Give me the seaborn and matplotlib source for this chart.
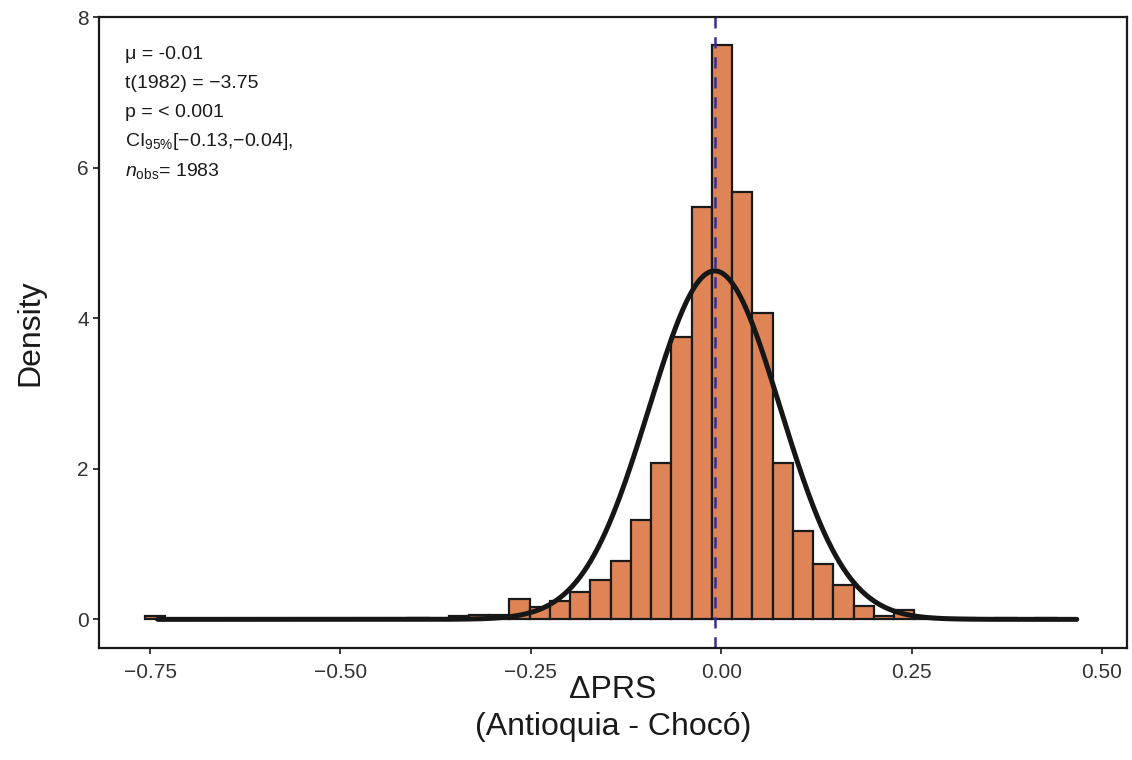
import numpy as np
import pandas as pd
import matplotlib
matplotlib.use("Agg")
import matplotlib.pyplot as plt
import seaborn as sns

# histogram of delta PRS (density per bin)
bin_start = -0.757
bin_width = 0.0266
density = [0.04, 0, 0, 0, 0, 0, 0, 0, 0, 0,
           0, 0, 0, 0.02, 0, 0.04, 0.06, 0.06, 0.275, 0.16,
           0.24, 0.37, 0.52, 0.78, 1.32, 2.08, 3.75, 5.48, 7.63, 5.68,
           4.07, 2.08, 1.17, 0.73, 0.45, 0.18, 0.05, 0.13, 0.03, 0.02,
           0.02, 0, 0.02, 0, 0.02]

# fitted normal curve
mu = -0.0085
sigma = 0.0862
curve_lo, curve_hi = -0.74, 0.467
mean_line = -0.008

stats_lines = [
    "μ = -0.01",
    "t(1982) = −3.75",
    "p = < 0.001",
    r"CI$_{\mathregular{95\%}}$[−0.13,−0.04],",
    r"$n_{\mathregular{obs}}$= 1983",
]

sns.set_theme(style="ticks")
plt.rcParams["font.family"] = ["Liberation Sans", "DejaVu Sans"]
plt.rcParams["mathtext.fontset"] = "custom"
plt.rcParams["mathtext.rm"] = "Liberation Sans"
plt.rcParams["mathtext.it"] = "Liberation Sans:italic"

fig = plt.figure(figsize=(11.32, 7.6), dpi=100)
ax = fig.add_axes([0.0875, 0.1474, 0.9081, 0.8302])

n_bins = len(density)
centers = bin_start + bin_width * (np.arange(n_bins) + 0.5)
df = pd.DataFrame({"x": centers, "d": density})
sns.histplot(data=df, x="x", weights="d", binwidth=bin_width,
             binrange=(bin_start, bin_start + bin_width * n_bins), stat="count",
             color="#DF8457", alpha=1, edgecolor="#1a1a1a", linewidth=1.6, ax=ax)

xs = np.linspace(curve_lo, curve_hi, 500)
pdf = np.exp(-0.5 * ((xs - mu) / sigma) ** 2) / (sigma * np.sqrt(2 * np.pi))
sns.lineplot(x=xs, y=pdf, color="#161616", linewidth=3.6, ax=ax)

ax.axvline(mean_line, color="#3B2C8E", linestyle=(0, (4.5, 3.5)), linewidth=1.8)

ax.set_xlim(-0.817, 0.533)
ax.set_ylim(-0.38, 8.0)
ax.set_xticks([-0.75, -0.5, -0.25, 0, 0.25, 0.5])
ax.set_xticklabels(["−0.75", "−0.50", "−0.25", "0.00", "0.25", "0.50"])
ax.set_yticks([0, 2, 4, 6, 8])
for s in ax.spines.values():
    s.set_visible(True)
    s.set_linewidth(1.6)
    s.set_color("#1a1a1a")
ax.tick_params(axis="both", labelsize=15, colors="#1a1a1a", labelcolor="#333333",
               length=4, width=1.2, direction="out")
ax.tick_params(axis="x", pad=7)

# x label in two lines, kept as separate texts
ax.set_xlabel("ΔPRS", fontsize=23, color="#1a1a1a", va="center")
ax.xaxis.set_label_coords(0.5, -0.066)
ax.text(0.5, -0.125, "(Antioquia - Chocó)", transform=ax.transAxes,
        fontsize=23, color="#1a1a1a", ha="center", va="center")
ax.set_ylabel("Density", fontsize=23, color="#1a1a1a")
ax.yaxis.set_label_coords(-0.052, 0.5)

for i, line in enumerate(stats_lines):
    ax.text(0.025, 0.94 - i * 0.046, line, transform=ax.transAxes,
            fontsize=14, color="#1a1a1a", va="center", ha="left")

fig.savefig("out.png", dpi=100)
